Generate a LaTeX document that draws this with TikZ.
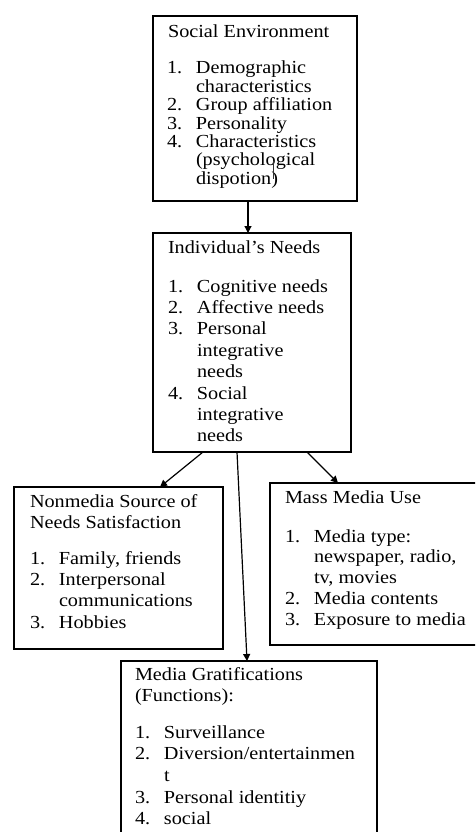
\documentclass[tikz,border=0pt]{standalone}
\usepackage{fontspec}
\setmainfont{Liberation Serif}[FakeStretch=1.1]
\usetikzlibrary{arrows.meta}
\newcommand{\nitem}[2]{\hbox{\makebox[29pt][l]{#1}#2}}
\newcommand{\citem}[1]{\hbox{\hspace*{29pt}#1}}
\newcommand{\vlist}[2]{\vtop{\baselineskip=#1\lineskiplimit=-100pt\lineskip=0pt #2}}
\begin{document}
\begin{tikzpicture}[x=1pt,y=-1pt,
  box/.style={draw=black, line width=1.3pt, inner sep=0pt, outer sep=0pt, anchor=north west, fill=white},
  txt/.style={inner sep=0pt, outer sep=0pt, anchor=base west, text=black, font=\fontsize{18.4}{21.4}\selectfont},
  arr/.style={line width=1.2pt, -{Triangle[length=7pt,width=7pt]}}]
\useasboundingbox (0,0) rectangle (475,832);
\clip (0,0) rectangle (475,832);
\fill[white] (0,0) rectangle (475,832);
% boxes
\node[box, minimum width=204pt, minimum height=185pt] (soc) at (153,16) {};
\node[box, minimum width=198pt, minimum height=219pt] (ind) at (153,233) {};
\node[box, minimum width=209pt, minimum height=162pt] (non) at (14,487) {};
\node[box, minimum width=214pt, minimum height=162pt] (mass) at (270,483) {};
\node[box, minimum width=256pt, minimum height=195pt] (grat) at (121,661) {};
% texts: Social Environment
\node[txt] (socT) at (168,38) {Social Environment};
\node[txt] (socL) at (167,74) {\vlist{18.4pt}{%
  \nitem{1.}{Demographic}
  \citem{characteristics}
  \nitem{2.}{Group affiliation}
  \nitem{3.}{Personality}
  \nitem{4.}{Characteristics}
  \citem{(psychological}
  \citem{dispotion)}}};
\draw[line width=0.8pt, black!80] (273,161) -- (273,179);
% Individual's needs
\node[txt] (indT) at (168,253) {Individual's Needs};
\node[txt] (indL) at (168,292) {\vlist{21.4pt}{%
  \nitem{1.}{Cognitive needs}
  \nitem{2.}{Affective needs}
  \nitem{3.}{Personal}
  \citem{integrative}
  \citem{needs}
  \nitem{4.}{Social}
  \citem{integrative}
  \citem{needs}}};
% Nonmedia
\node[txt] (nonT) at (30,507) {\vlist{21.4pt}{%
  \hbox{Nonmedia Source of}
  \hbox{Needs Satisfaction}}};
\node[txt] (nonL) at (30,564) {\vlist{21.4pt}{%
  \nitem{1.}{Family, friends}
  \nitem{2.}{Interpersonal}
  \citem{communications}
  \nitem{3.}{Hobbies}}};
% Mass media
\node[txt] (massT) at (285,503) {Mass Media Use};
\node[txt] (massL) at (285,542) {\vlist{20.8pt}{%
  \nitem{1.}{Media type:}
  \citem{newspaper, radio,}
  \citem{tv, movies}
  \nitem{2.}{Media contents}
  \nitem{3.}{Exposure to media}}};
% Gratifications
\node[txt] (gratT) at (135,680) {\vlist{21.8pt}{%
  \hbox{Media Gratifications}
  \hbox{(Functions):}}};
\node[txt] (gratL) at (135,738) {\vlist{21.7pt}{%
  \nitem{1.}{Surveillance}
  \nitem{2.}{Diversion/entertainmen}
  \citem{t}
  \nitem{3.}{Personal identitiy}
  \nitem{4.}{social}}};
% connectors
\draw[arr] ([xshift=95pt]soc.south west) -- ([xshift=95pt]ind.north west);
\draw[arr] ([xshift=50pt]ind.south west) -- ([xshift=146pt]non.north west);
\draw[arr] ([xshift=154pt]ind.south west) -- ([xshift=68pt]mass.north west);
\draw[arr] ([xshift=84pt]ind.south west) -- ([xshift=126pt]grat.north west);
\end{tikzpicture}
\end{document}
